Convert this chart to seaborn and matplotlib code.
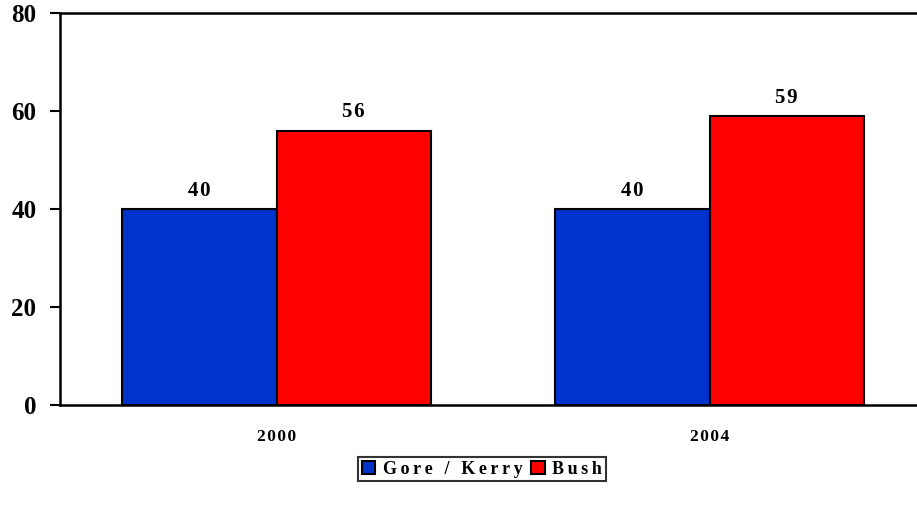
import matplotlib
matplotlib.use("Agg")
import matplotlib.pyplot as plt
import seaborn as sns
import pandas as pd

years = ["2000", "2004"]
candidates = ["Gore / Kerry", "Bush"]
dem_share = [40, 40]
rep_share = [56, 59]
y_ticks = [0, 20, 40, 60, 80]
colors = ["#0033CC", "#FF0000"]

df = pd.DataFrame({
    "year": years * 2,
    "candidate": [candidates[0]] * len(years) + [candidates[1]] * len(years),
    "share": dem_share + rep_share,
})

sns.set_theme(style="white")
plt.rcParams["font.family"] = ["Liberation Serif", "DejaVu Serif"]
plt.rcParams["font.weight"] = "bold"
plt.rcParams["text.color"] = "black"
plt.rcParams["xtick.color"] = "black"
plt.rcParams["ytick.color"] = "black"

HAIR = "\u200a"


def spaced(s, sep=HAIR):
    return sep.join(s)


fig = plt.figure(figsize=(9.17, 5.09), dpi=100)
ax = fig.add_axes([60 / 917, 104 / 509, 866 / 917, 392 / 509])

sns.barplot(data=df, x="year", y="share", hue="candidate", palette=colors,
            width=0.714, edgecolor="black", linewidth=1.5, saturation=1,
            ax=ax, legend=True)

ax.set_ylim(0, 80)
ax.set_xlim(-0.5, 1.5)
ax.set_yticks(y_ticks)
ax.set_yticklabels([str(t) for t in y_ticks], fontsize=18, fontweight="bold")
ax.set_xticks([0, 1])
ax.set_xticklabels([spaced(y) for y in years], fontsize=12.5, fontweight="bold")
ax.set_xticks([-0.5, 0.5, 1.5], minor=True)
ax.tick_params(axis="x", which="major", length=0, pad=17)
ax.tick_params(axis="x", which="minor", length=5, width=1.5, direction="out", color="black")
ax.tick_params(axis="y", length=7, width=1.5, direction="out", color="black", left=True, pad=10)
ax.set_xlabel("")
ax.set_ylabel("")

for side in ["left", "bottom", "top"]:
    ax.spines[side].set_visible(True)
    ax.spines[side].set_color("black")
    ax.spines[side].set_linewidth(1.8)
ax.spines["right"].set_visible(False)

for cont in ax.containers:
    ax.bar_label(cont, labels=[spaced(f"{v:.0f}") for v in cont.datavalues],
                 padding=6, fontsize=15, fontweight="bold", color="black")

handles, labels = ax.get_legend_handles_labels()
ax.legend_.remove()
leg = fig.legend(handles, labels, loc="center", bbox_to_anchor=(482 / 917, 1 - 469 / 509),
                 ncol=2, frameon=True, fancybox=False, edgecolor="black",
                 handlelength=0.75, handleheight=0.75, handletextpad=0.4,
                 columnspacing=0.5, borderpad=0.2,
                 prop={"family": "Liberation Serif", "weight": "bold", "size": 13})
leg.get_frame().set_linewidth(1.5)
for t in leg.get_texts():
    t.set_text("\u2009".join(t.get_text()))
    t.set_color("black")

fig.savefig("out.png", dpi=100)
